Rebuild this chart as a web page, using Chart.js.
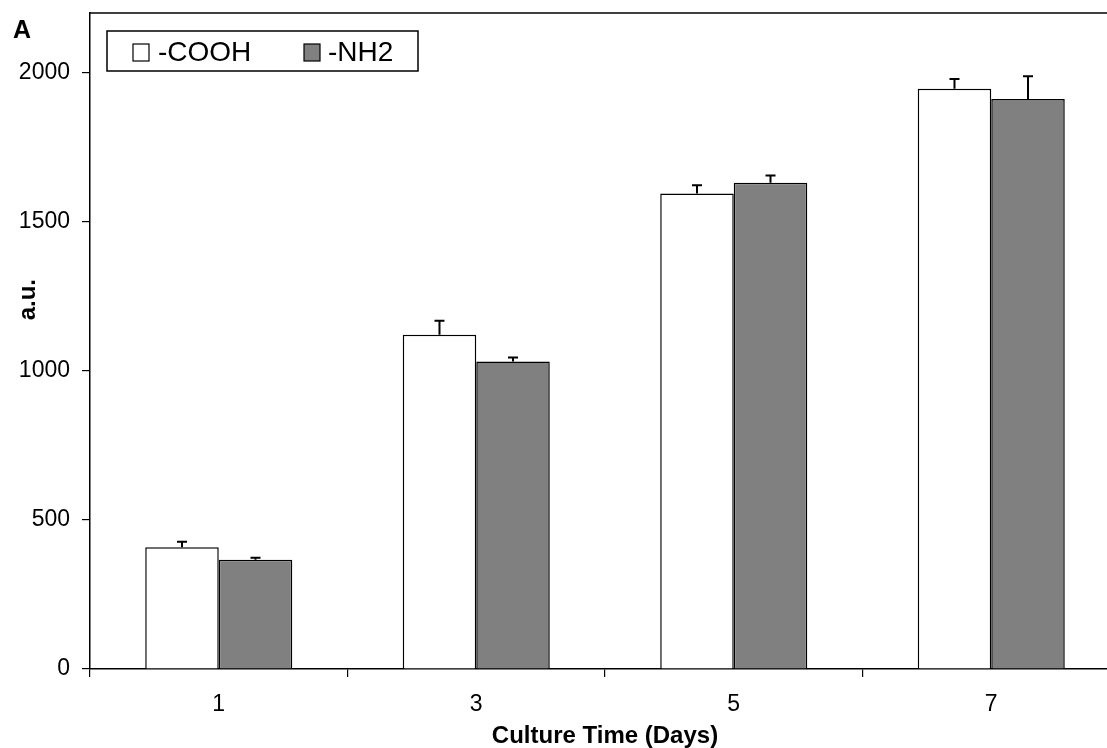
<!DOCTYPE html>
<html lang="en">
<head>
    <meta charset="UTF-8">
    <title>Culture Time</title>
    <script src="https://cdn.jsdelivr.net/npm/chart.js"></script>
    <style>
        body {
            margin: 0;
            background-color: #fff;
            overflow: hidden;
        }
        #wrap {
            width: 1107px;
            height: 748px;
            overflow: hidden;
        }
    </style>
</head>
<body>
    <div id="wrap">
        <canvas id="chart" width="1121" height="748"></canvas>
    </div>

    <script>
        const days = ['1', '3', '5', '7'];
        const coohValues = [408, 1121, 1595, 1946];
        const coohErrors = [19, 47, 27, 33];
        const nh2Values = [366, 1031, 1631, 1912];
        const nh2Errors = [7, 14, 24, 76];
        const yTicks = [0, 500, 1000, 1500, 2000];

        const font = 'Arial, "Liberation Sans", sans-serif';

        // error bars (upper side only), top frame line, panel letter, legend box, y title
        const extras = {
            id: 'extras',
            afterDatasetsDraw(chart) {
                const ctx = chart.ctx;
                const y = chart.scales.y;
                const area = chart.chartArea;
                ctx.save();
                ctx.strokeStyle = '#000';
                ctx.lineWidth = 2;
                chart.data.datasets.forEach((ds, i) => {
                    const meta = chart.getDatasetMeta(i);
                    meta.data.forEach((bar, j) => {
                        const top = y.getPixelForValue(ds.data[j] + ds.errors[j]);
                        ctx.beginPath();
                        ctx.moveTo(bar.x, bar.y);
                        ctx.lineTo(bar.x, top);
                        ctx.moveTo(bar.x - 5, top);
                        ctx.lineTo(bar.x + 5, top);
                        ctx.stroke();
                    });
                });

                // top frame
                ctx.lineWidth = 1.5;
                ctx.beginPath();
                ctx.moveTo(area.left, area.top);
                ctx.lineTo(area.right, area.top);
                ctx.stroke();

                // panel letter
                ctx.fillStyle = '#000';
                ctx.font = 'bold 25px ' + font;
                ctx.textAlign = 'center';
                ctx.textBaseline = 'middle';
                ctx.fillText('A', 22, 31);

                // y axis title
                ctx.save();
                ctx.translate(28, area.top + (area.bottom - area.top) * 0.437);
                ctx.rotate(-Math.PI / 2);
                ctx.font = 'bold 24px ' + font;
                ctx.fillText('a.u.', 0, 0);
                ctx.restore();

                // legend
                const lx = area.left + 17, ly = area.top + 18;
                ctx.fillStyle = '#fff';
                ctx.fillRect(lx, ly, 311, 40);
                ctx.lineWidth = 1.5;
                ctx.strokeRect(lx, ly, 311, 40);
                const items = [[lx + 26, lx + 51], [lx + 197, lx + 221]];
                ctx.font = '28px ' + font;
                ctx.textAlign = 'left';
                chart.data.datasets.forEach((ds, i) => {
                    const [bx, tx] = items[i];
                    ctx.fillStyle = ds.backgroundColor;
                    ctx.fillRect(bx, ly + 13, 16, 17);
                    ctx.lineWidth = 1.2;
                    ctx.strokeRect(bx, ly + 13, 16, 17);
                    ctx.fillStyle = '#000';
                    ctx.fillText(ds.label, tx, ly + 22);
                });
                ctx.restore();
            }
        };

        new Chart(document.getElementById('chart'), {
            type: 'bar',
            data: {
                labels: days,
                datasets: [{
                    label: '-COOH',
                    data: coohValues,
                    errors: coohErrors,
                    backgroundColor: '#ffffff',
                    borderColor: '#000',
                    borderWidth: 1.5
                }, {
                    label: '-NH2',
                    data: nh2Values,
                    errors: nh2Errors,
                    backgroundColor: '#808080',
                    borderColor: '#000',
                    borderWidth: 1.5
                }]
            },
            options: {
                responsive: false,
                animation: false,
                categoryPercentage: 0.571,
                barPercentage: 1,
                layout: { padding: { top: 13, right: 1, left: 0, bottom: 0 } },
                plugins: {
                    legend: { display: false },
                    tooltip: { enabled: false }
                },
                scales: {
                    x: {
                        grid: {
                            offset: true,
                            drawOnChartArea: false,
                            tickLength: 8,
                            color: '#000',
                            lineWidth: 1.2
                        },
                        border: { color: '#000', width: 1.5 },
                        ticks: {
                            color: '#000',
                            padding: 14,
                            font: { family: font, size: 23 }
                        },
                        title: {
                            display: true,
                            text: 'Culture Time (Days)',
                            color: '#000',
                            font: { family: font, size: 24, weight: 'bold', lineHeight: 1 },
                            padding: { top: 4, bottom: 0 }
                        },
                        afterFit(scale) {
                            scale.height = 79;
                            scale.paddingLeft = 0;
                            scale.paddingRight = 0;
                        }
                    },
                    y: {
                        min: 0,
                        max: 2200,
                        afterBuildTicks(scale) {
                            scale.ticks = yTicks.map(v => ({ value: v }));
                        },
                        grid: {
                            drawOnChartArea: false,
                            tickLength: 8,
                            color: '#000',
                            lineWidth: 1.2
                        },
                        border: { color: '#000', width: 1.5 },
                        ticks: {
                            color: '#000',
                            padding: 12,
                            font: { family: font, size: 23 },
                            callback: v => String(v)
                        },
                        afterFit(scale) {
                            scale.width = 90;
                            scale.paddingTop = 0;
                            scale.paddingBottom = 0;
                        }
                    }
                }
            },
            plugins: [extras]
        });
    </script>
</body>
</html>
